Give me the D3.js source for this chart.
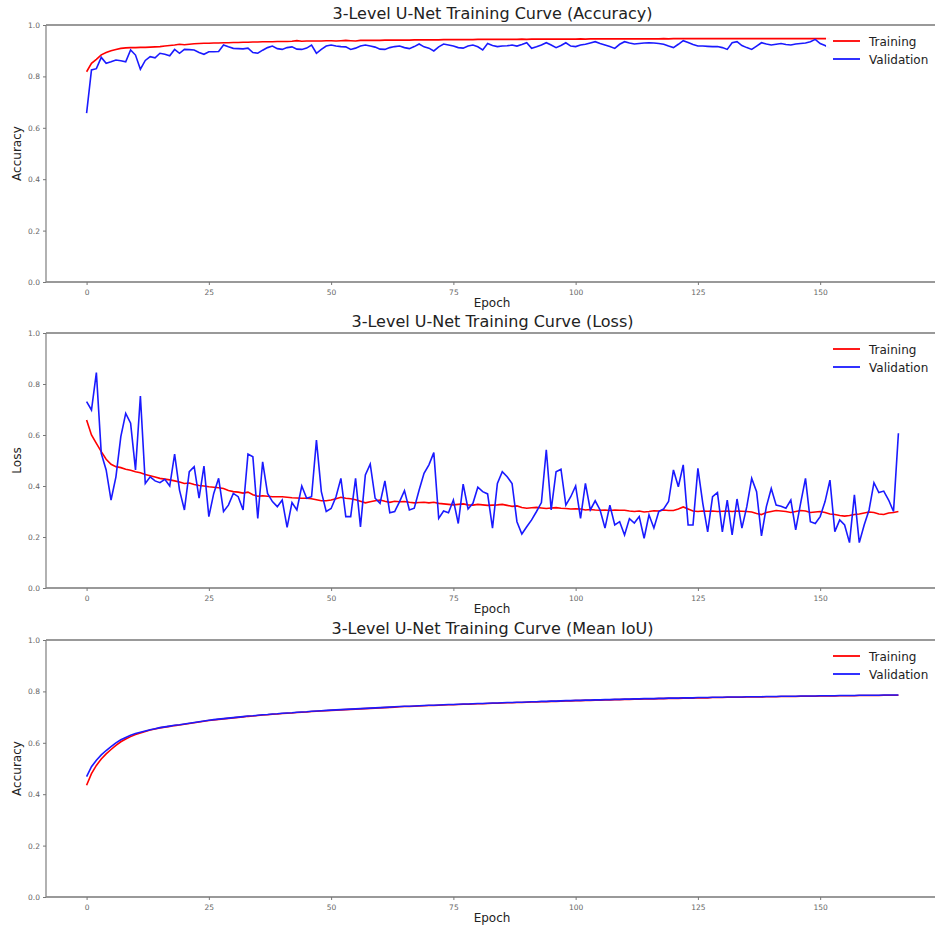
<!DOCTYPE html>
<html><head><meta charset="utf-8">
<script src="https://cdn.jsdelivr.net/npm/d3@7"></script>
<style>body{margin:0;background:#fff}svg{display:block}</style>
</head><body><svg id="c" width="935" height="931"></svg>
<script>
// ---------- DATA ----------
const xTicks = [0, 25, 50, 75, 100, 125, 150];
const yTicks = [0.0, 0.2, 0.4, 0.6, 0.8, 1.0];
const seriesNames = ["Training", "Validation"];

const accTrain = [0.818,0.851,0.866,0.884,0.893,0.900,0.905,0.909,0.911,0.912,0.912,0.913,0.913,0.914,0.915,0.916,0.918,0.920,0.922,0.925,0.923,0.925,0.927,0.928,0.929,0.929,0.930,0.930,0.931,0.931,0.932,0.932,0.933,0.933,0.934,0.934,0.935,0.935,0.935,0.936,0.936,0.936,0.937,0.939,0.937,0.938,0.938,0.938,0.938,0.939,0.939,0.938,0.939,0.940,0.939,0.938,0.940,0.940,0.940,0.940,0.940,0.941,0.941,0.941,0.941,0.941,0.941,0.942,0.942,0.942,0.942,0.942,0.942,0.943,0.943,0.943,0.943,0.943,0.943,0.943,0.944,0.944,0.944,0.944,0.944,0.944,0.944,0.944,0.944,0.945,0.944,0.945,0.945,0.945,0.945,0.945,0.945,0.945,0.945,0.945,0.945,0.946,0.945,0.946,0.946,0.946,0.946,0.946,0.946,0.946,0.946,0.946,0.946,0.946,0.946,0.946,0.946,0.946,0.947,0.946,0.947,0.947,0.947,0.947,0.947,0.947,0.947,0.947,0.947,0.947,0.947,0.947,0.947,0.947,0.947,0.947,0.947,0.947,0.947,0.947,0.947,0.947,0.947,0.947,0.947,0.947,0.947,0.947,0.947,0.947,0.947,0.947,0.947];
const accVal = [0.657,0.825,0.830,0.874,0.851,0.857,0.864,0.861,0.857,0.903,0.883,0.828,0.862,0.877,0.872,0.890,0.886,0.880,0.905,0.890,0.905,0.904,0.903,0.893,0.886,0.896,0.896,0.897,0.922,0.915,0.909,0.908,0.907,0.910,0.893,0.890,0.902,0.912,0.918,0.908,0.905,0.912,0.915,0.906,0.905,0.910,0.922,0.890,0.905,0.918,0.922,0.918,0.916,0.915,0.905,0.910,0.918,0.922,0.918,0.914,0.906,0.905,0.912,0.916,0.918,0.912,0.908,0.916,0.926,0.915,0.910,0.899,0.915,0.926,0.922,0.918,0.912,0.910,0.918,0.922,0.915,0.903,0.928,0.920,0.916,0.918,0.919,0.922,0.918,0.924,0.931,0.909,0.915,0.922,0.931,0.922,0.912,0.920,0.931,0.918,0.916,0.922,0.925,0.930,0.935,0.928,0.922,0.916,0.909,0.925,0.935,0.930,0.926,0.928,0.930,0.931,0.930,0.928,0.925,0.918,0.912,0.925,0.939,0.932,0.924,0.918,0.918,0.917,0.916,0.916,0.912,0.905,0.931,0.935,0.920,0.912,0.905,0.918,0.931,0.926,0.922,0.925,0.928,0.924,0.922,0.926,0.928,0.930,0.935,0.944,0.928,0.920,0.909];

const lossTrain = [0.659,0.600,0.567,0.535,0.505,0.485,0.476,0.472,0.466,0.462,0.456,0.452,0.445,0.440,0.435,0.430,0.427,0.424,0.420,0.416,0.410,0.412,0.406,0.402,0.400,0.397,0.395,0.393,0.390,0.382,0.378,0.376,0.372,0.376,0.366,0.360,0.362,0.360,0.358,0.358,0.358,0.356,0.354,0.353,0.352,0.352,0.350,0.346,0.342,0.342,0.345,0.350,0.356,0.352,0.350,0.346,0.340,0.334,0.338,0.342,0.345,0.340,0.336,0.340,0.338,0.339,0.336,0.334,0.335,0.336,0.334,0.336,0.332,0.330,0.328,0.326,0.328,0.330,0.326,0.325,0.328,0.326,0.324,0.325,0.326,0.328,0.324,0.320,0.322,0.316,0.313,0.315,0.316,0.314,0.312,0.314,0.315,0.313,0.312,0.310,0.311,0.310,0.306,0.308,0.306,0.305,0.306,0.304,0.306,0.305,0.305,0.302,0.300,0.302,0.298,0.300,0.303,0.302,0.306,0.304,0.304,0.310,0.318,0.310,0.302,0.300,0.302,0.301,0.302,0.300,0.301,0.302,0.300,0.302,0.301,0.300,0.298,0.292,0.288,0.296,0.300,0.304,0.302,0.300,0.296,0.300,0.304,0.302,0.296,0.298,0.300,0.296,0.290,0.288,0.284,0.282,0.284,0.288,0.290,0.294,0.298,0.296,0.290,0.288,0.294,0.296,0.300];
const lossVal = [0.731,0.698,0.845,0.528,0.463,0.345,0.436,0.594,0.685,0.646,0.463,0.753,0.410,0.436,0.420,0.413,0.426,0.400,0.525,0.384,0.306,0.456,0.476,0.352,0.478,0.280,0.371,0.430,0.300,0.325,0.371,0.358,0.306,0.525,0.515,0.273,0.495,0.371,0.339,0.319,0.345,0.238,0.335,0.306,0.400,0.352,0.358,0.580,0.378,0.300,0.312,0.358,0.430,0.280,0.280,0.430,0.240,0.443,0.486,0.352,0.332,0.420,0.295,0.300,0.339,0.382,0.306,0.313,0.384,0.450,0.483,0.531,0.273,0.302,0.295,0.345,0.253,0.407,0.310,0.332,0.395,0.378,0.369,0.235,0.410,0.456,0.436,0.410,0.260,0.212,0.240,0.267,0.300,0.335,0.542,0.306,0.456,0.466,0.325,0.358,0.400,0.273,0.410,0.306,0.342,0.306,0.235,0.325,0.247,0.260,0.208,0.272,0.255,0.280,0.195,0.287,0.235,0.300,0.310,0.339,0.463,0.397,0.483,0.247,0.247,0.469,0.332,0.220,0.358,0.374,0.220,0.345,0.208,0.349,0.235,0.319,0.430,0.378,0.204,0.319,0.390,0.325,0.321,0.313,0.345,0.228,0.332,0.430,0.260,0.253,0.280,0.339,0.423,0.221,0.267,0.247,0.178,0.365,0.178,0.247,0.306,0.413,0.374,0.380,0.345,0.300,0.607];

const iouTrain = [0.435,0.480,0.512,0.537,0.557,0.574,0.590,0.604,0.615,0.624,0.632,0.638,0.644,0.650,0.654,0.658,0.661,0.664,0.667,0.669,0.672,0.675,0.678,0.681,0.684,0.687,0.689,0.691,0.693,0.695,0.697,0.699,0.701,0.703,0.704,0.706,0.708,0.709,0.711,0.712,0.714,0.715,0.716,0.718,0.719,0.720,0.722,0.723,0.724,0.725,0.726,0.727,0.728,0.729,0.730,0.731,0.732,0.733,0.734,0.735,0.736,0.737,0.738,0.739,0.740,0.741,0.741,0.742,0.743,0.744,0.745,0.745,0.746,0.747,0.748,0.748,0.749,0.750,0.750,0.751,0.752,0.752,0.753,0.754,0.754,0.755,0.756,0.756,0.757,0.757,0.758,0.759,0.759,0.760,0.760,0.761,0.761,0.762,0.763,0.763,0.764,0.764,0.765,0.765,0.766,0.766,0.767,0.767,0.768,0.768,0.769,0.769,0.770,0.770,0.771,0.771,0.771,0.772,0.772,0.773,0.773,0.773,0.774,0.774,0.774,0.775,0.775,0.775,0.776,0.776,0.776,0.777,0.777,0.777,0.777,0.778,0.778,0.778,0.778,0.779,0.779,0.779,0.780,0.780,0.780,0.780,0.781,0.781,0.781,0.781,0.782,0.782,0.782,0.782,0.783,0.783,0.783,0.783,0.784,0.784,0.784,0.784,0.784,0.785,0.785,0.785,0.785];
const iouVal = [0.468,0.507,0.532,0.553,0.570,0.585,0.600,0.612,0.621,0.629,0.636,0.641,0.646,0.651,0.655,0.659,0.662,0.665,0.668,0.670,0.673,0.676,0.679,0.682,0.685,0.688,0.690,0.692,0.694,0.696,0.698,0.700,0.702,0.704,0.705,0.707,0.709,0.710,0.712,0.713,0.715,0.716,0.717,0.719,0.720,0.721,0.723,0.724,0.725,0.726,0.727,0.728,0.729,0.730,0.731,0.732,0.733,0.734,0.735,0.736,0.737,0.738,0.739,0.740,0.741,0.742,0.742,0.743,0.744,0.745,0.746,0.746,0.747,0.748,0.749,0.749,0.750,0.751,0.751,0.752,0.753,0.753,0.754,0.755,0.755,0.756,0.757,0.757,0.758,0.758,0.759,0.760,0.760,0.761,0.761,0.762,0.762,0.763,0.764,0.764,0.765,0.765,0.766,0.766,0.767,0.767,0.768,0.768,0.769,0.769,0.770,0.770,0.771,0.771,0.772,0.772,0.772,0.773,0.773,0.774,0.774,0.774,0.775,0.775,0.775,0.776,0.776,0.776,0.777,0.777,0.777,0.778,0.778,0.778,0.778,0.779,0.779,0.779,0.779,0.780,0.780,0.780,0.781,0.781,0.781,0.781,0.782,0.782,0.782,0.782,0.783,0.783,0.783,0.783,0.784,0.784,0.784,0.784,0.785,0.785,0.785,0.785,0.785,0.786,0.786,0.786,0.786];

const panels = [
  {title: "3-Level U-Net Training Curve (Accuracy)", ylabel: "Accuracy", train: accTrain, val: accVal, top: 25, bottom: 282},
  {title: "3-Level U-Net Training Curve (Loss)", ylabel: "Loss", train: lossTrain, val: lossVal, top: 333, bottom: 588},
  {title: "3-Level U-Net Training Curve (Mean IoU)", ylabel: "Accuracy", train: iouTrain, val: iouVal, top: 640, bottom: 897}
];
const colors = {Training: "#ff0000", Validation: "#1a1aff"};

// ---------- DRAW ----------
const svg = d3.select("#c");
const left = 46, right = 939;
const font = "'DejaVu Sans', sans-serif";
const x = d3.scaleLinear().domain([-8.3, 174.3]).range([left, right]);

panels.forEach(p => {
  const y = d3.scaleLinear().domain([0, 1]).range([p.bottom, p.top]);
  const g = svg.append("g");

  const line = d3.line().x((d, i) => x(i)).y(d => y(d));
  g.append("path").datum(p.train).attr("d", line).attr("fill", "none")
    .attr("stroke", colors.Training).attr("stroke-width", 1.6);
  g.append("path").datum(p.val).attr("d", line).attr("fill", "none")
    .attr("stroke", colors.Validation).attr("stroke-width", 1.6);

  // spines
  g.append("line").attr("x1", left).attr("x2", right).attr("y1", p.top).attr("y2", p.top).attr("stroke", "#777").attr("stroke-width", 1.3);
  g.append("line").attr("x1", left).attr("x2", right).attr("y1", p.bottom).attr("y2", p.bottom).attr("stroke", "#777").attr("stroke-width", 1.3);
  g.append("line").attr("x1", left).attr("x2", left).attr("y1", p.top).attr("y2", p.bottom).attr("stroke", "#888").attr("stroke-width", 1.3);

  // axes
  const xa = g.append("g").attr("transform", `translate(0,${p.bottom})`)
    .call(d3.axisBottom(x).tickValues(xTicks).tickSize(3).tickFormat(d3.format("d")));
  xa.select(".domain").remove();
  xa.selectAll("line").attr("stroke", "#777");
  xa.selectAll("text").attr("font-family", font).attr("font-size", 7.5).attr("fill", "#666").attr("dy", "0.9em");

  const ya = g.append("g").attr("transform", `translate(${left},0)`)
    .call(d3.axisLeft(y).tickValues(yTicks).tickSize(3).tickFormat(d3.format(".1f")));
  ya.select(".domain").remove();
  ya.selectAll("line").attr("stroke", "#777");
  ya.selectAll("text").attr("font-family", font).attr("font-size", 7.5).attr("fill", "#666");

  // title
  g.append("text").attr("x", (left + right) / 2).attr("y", p.top - 6)
    .attr("text-anchor", "middle").attr("font-family", font).attr("font-size", 16)
    .attr("fill", "#222").text(p.title);
  // axis labels
  g.append("text").attr("x", 492).attr("y", p.bottom + 25)
    .attr("text-anchor", "middle").attr("font-family", font).attr("font-size", 12)
    .attr("fill", "#222").text("Epoch");
  g.append("text").attr("transform", `translate(21,${(p.top + p.bottom) / 2}) rotate(-90)`)
    .attr("text-anchor", "middle").attr("font-family", font).attr("font-size", 12)
    .attr("fill", "#222").text(p.ylabel);

  // legend
  const lg = g.append("g").attr("transform", `translate(826,${p.top + 3})`);
  lg.append("rect").attr("x", 0).attr("y", 0).attr("width", 115).attr("height", 43)
    .attr("fill", "#fff").attr("fill-opacity", 0.95);
  seriesNames.forEach((s, i) => {
    const yy = 13 + i * 18;
    lg.append("line").attr("x1", 7).attr("x2", 34).attr("y1", yy).attr("y2", yy)
      .attr("stroke", colors[s]).attr("stroke-width", 1.8);
    lg.append("text").attr("x", 43).attr("y", yy + 4.5).attr("font-family", font)
      .attr("font-size", 12).attr("fill", "#222").text(s);
  });
});
</script></body></html>
